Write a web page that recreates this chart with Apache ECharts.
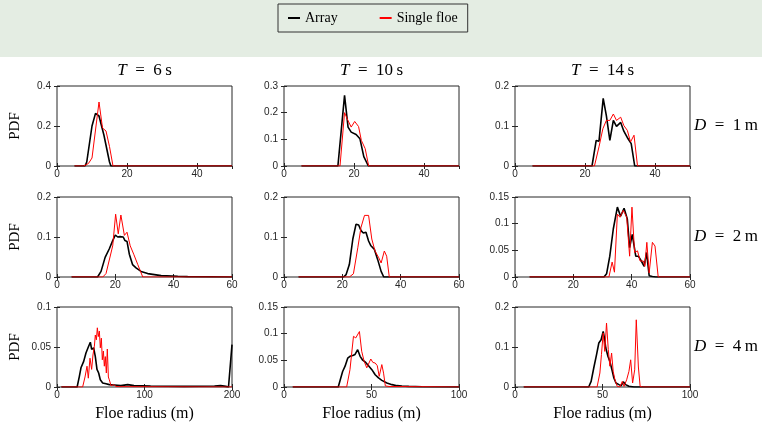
<!DOCTYPE html>
<html>
<head>
<meta charset="utf-8">
<script src="https://cdn.jsdelivr.net/npm/echarts@6/dist/echarts.min.js"></script>
<style>
  html, body { margin: 0; padding: 0; background: #fff; }
  #container { width: 762px; height: 423px; }
</style>
</head>
<body>
<div id="container"></div>
<script>
// wave periods (columns) and spacings (rows)
var periods = ['6', '10', '14'];
var spacings = ['1', '2', '4'];

// axis ranges, per row then column
var xMax = [[50, 50, 50], [60, 60, 60], [200, 100, 100]];
var xStep = [[20, 20, 20], [20, 20, 20], [100, 50, 50]];
var yMax = [[0.4, 0.3, 0.2], [0.2, 0.2, 0.15], [0.1, 0.15, 0.2]];
var yStep = [[0.2, 0.1, 0.1], [0.1, 0.1, 0.05], [0.05, 0.05, 0.1]];

// PDF curves: [radius, pdf]
var arrayT6D1 = [[5,0],[8,0],[8.5,0.02],[10,0.2],[11,0.263],[12,0.25],[13.4,0.155],[15,0.02],[15.4,0],[50,0]];
var singleT6D1 = [[5,0],[7.6,0],[9,0.013],[10,0.04],[12,0.32],[13,0.19],[14,0.175],[15,0.097],[16,0],[50,0]];

var arrayT10D1 = [[5,0],[15.4,0],[17.3,0.265],[18.3,0.146],[19.2,0.127],[20.6,0.118],[21.7,0.102],[22.8,0.035],[24.1,0],[50,0]];
var singleT10D1 = [[5,0],[16,0],[17.3,0.2],[18.3,0.17],[19.2,0.146],[20.2,0.167],[21.3,0.148],[22.1,0.096],[23.2,0.065],[24.2,0],[50,0]];

var arrayT14D1 = [[5,0],[22,0],[23.2,0.064],[24,0.062],[25.2,0.169],[26.1,0.126],[27.1,0.064],[28.1,0.114],[29,0.099],[30.2,0.109],[31.1,0.087],[32.3,0.068],[33.2,0.056],[34.2,0],[50,0]];
var singleT14D1 = [[5,0],[22.7,0],[24,0.048],[25.1,0.093],[26.1,0.114],[27.1,0.114],[28.1,0.13],[29,0.114],[30.2,0.122],[31.1,0.101],[32.1,0.089],[33,0.06],[34,0.077],[35,0],[50,0]];

var arrayT6D2 = [[5,0],[13.9,0],[15.1,0.014],[16.5,0.049],[17.9,0.07],[19.1,0.091],[20,0.105],[20.8,0.1],[21.6,0.101],[22.2,0.097],[22.7,0.1],[23.3,0.091],[24,0.089],[24.8,0.057],[25.9,0.031],[27.1,0.023],[28.8,0.014],[31.1,0.0085],[33.4,0.006],[35.7,0.0034],[41.4,0.0017],[44.8,0.001],[60,0]];
var singleT6D2 = [[5,0],[15.7,0],[16.8,0.0085],[19.1,0.078],[20.1,0.157],[21,0.108],[21.9,0.155],[23.1,0.104],[24,0.112],[25.1,0.078],[26.3,0.057],[27.7,0.031],[29.4,0],[60,0]];

var arrayT10D2 = [[5,0],[20.4,0],[21.3,0.006],[22.4,0.031],[23.6,0.095],[24.7,0.132],[25.6,0.13],[26.4,0.116],[27.2,0.11],[28.1,0.112],[29,0.09],[29.8,0.078],[31,0.069],[32.1,0.044],[33.3,0.014],[34.2,0],[60,0]];
var singleT10D2 = [[5,0],[22.4,0],[23.8,0.008],[25.3,0.073],[26.4,0.124],[27.6,0.154],[29,0.154],[30.1,0.095],[31.2,0.065],[32.5,0.048],[33.3,0.035],[34.4,0.065],[35.2,0.052],[36.1,0],[60,0]];

var arrayT14D2 = [[5,0],[30.5,0],[31.4,0.006],[32.5,0.039],[33.7,0.09],[35.1,0.131],[36.2,0.114],[37.4,0.129],[38.5,0.109],[39.3,0.055],[40.2,0.08],[41.4,0.039],[42.3,0.039],[43.3,0.03],[44.3,0.02],[45.1,0.046],[46,0.0025],[47.1,0.001],[48.3,0],[60,0]];
var singleT14D2 = [[5,0],[32.2,0],[33.3,0.028],[34.1,0.009],[35.1,0.118],[36,0.112],[37.1,0.125],[38.3,0.112],[39.3,0.039],[40.1,0.131],[41,0.046],[42,0.049],[42.9,0.03],[44,0.03],[44.5,0.02],[45.2,0.065],[46,0.0076],[47.1,0.065],[48,0.058],[49.1,0],[60,0]];

var arrayT6D4 = [[5,0],[23,0],[25.5,0.013],[27.4,0.024],[30.5,0.032],[33.1,0.0425],[35.8,0.05],[38.1,0.056],[39.6,0.047],[41.9,0.049],[43.8,0.038],[45.7,0.022],[47.6,0.0175],[49.5,0.009],[52.2,0.005],[56,0.004],[59.8,0.003],[65.5,0.0025],[73,0.0017],[80.8,0.003],[88,0.0017],[107,0.0012],[145,0.0008],[180,0.0012],[187,0.0017],[193,0.0008],[196,0],[200,0.053]];
var singleT6D4 = [[5,0],[29.3,0],[32,0.0125],[34.3,0.026],[35.8,0.011],[37.7,0.036],[39.6,0.022],[41.1,0.04],[42.7,0.051],[43.8,0.065],[45,0.059],[46.1,0.074],[47.2,0.063],[48.4,0.07],[49.5,0.049],[50.7,0.061],[51.8,0.034],[53,0.045],[54.1,0.026],[55.2,0.038],[56.4,0.0175],[57.5,0.0475],[58.7,0.0125],[59.8,0.009],[61.7,0.0017],[64.8,0.003],[67.4,0.0008],[71,0.0004],[200,0]];

var arrayT10D4 = [[5,0],[31,0],[32.2,0.014],[33.5,0.029],[34.9,0.039],[36.4,0.054],[37.7,0.0575],[39.3,0.059],[40.6,0.061],[42.1,0.07],[43.5,0.0575],[44.8,0.051],[46.7,0.046],[48.3,0.04],[50.2,0.0325],[52.1,0.023],[54,0.017],[55.9,0.0125],[58.8,0.0075],[61.7,0.0044],[64.6,0.0025],[65.5,0.0056],[67.4,0.0019],[71.3,0.0012],[78.9,0.0006],[100,0]];
var singleT10D4 = [[5,0],[35.8,0],[37.7,0.0325],[39.7,0.095],[41,0.092],[42,0.095],[43.1,0.104],[44.4,0.067],[45.8,0.048],[47.3,0.036],[48.3,0.0325],[49.6,0.0525],[50.8,0.046],[52.1,0.045],[53.3,0.04],[54.4,0.02],[55.9,0.042],[56.9,0.026],[57.9,0.002],[60,0.001],[100,0]];

var arrayT14D4 = [[5,0],[42.1,0],[43.5,0.014],[45,0.0475],[46.6,0.081],[47.9,0.11],[49.2,0.118],[50.4,0.139],[51.1,0.1225],[51.9,0.0975],[53.1,0.077],[54.2,0.064],[55.4,0.043],[56.5,0.0225],[57.7,0.01],[59.4,0.006],[60.7,0.0033],[61.9,0.013],[63.2,0.006],[65.1,0.0017],[68,0],[100,0]];
var singleT14D4 = [[5,0],[46.9,0],[48.5,0.035],[49.4,0.081],[50.4,0.135],[51.3,0.089],[52.3,0.16],[53.3,0.0935],[54.2,0.052],[55.2,0.085],[56.1,0.039],[57.1,0.018],[58.4,0.0017],[60,0],[61.3,0.014],[62.3,0.0017],[63.8,0.018],[65.1,0.039],[66.1,0.068],[67.2,0.01],[68.4,0.043],[69.3,0.168],[70.5,0.05],[71.5,0.0017],[72.8,0],[100,0]];

var arrayCurves = [[arrayT6D1, arrayT10D1, arrayT14D1], [arrayT6D2, arrayT10D2, arrayT14D2], [arrayT6D4, arrayT10D4, arrayT14D4]];
var singleCurves = [[singleT6D1, singleT10D1, singleT14D1], [singleT6D2, singleT10D2, singleT14D2], [singleT6D4, singleT10D4, singleT14D4]];

// layout (pixels)
var colLeft = [57, 284, 515];
var rowTop = [86, 197, 307];
var plotW = 175, plotH = 80;

var axisColor = '#262626';
var serif = '"Liberation Serif", "DejaVu Serif", serif';
var sans = '"Liberation Sans", Arial, sans-serif';

var myChart = echarts.init(document.getElementById('container'));

var grids = [], xAxes = [], yAxes = [], series = [], graphics = [];

graphics.push({ type: 'rect', left: 0, top: 0, z: -10, shape: { width: 762, height: 57 }, style: { fill: '#e4ede3' } });

for (var r = 0; r < 3; r++) {
    for (var c = 0; c < 3; c++) {
        var g = r * 3 + c;
        grids.push({
            left: colLeft[c], top: rowTop[r], width: plotW, height: plotH,
            show: true, backgroundColor: '#fff', borderColor: axisColor, borderWidth: 1
        });
        var xm = xMax[r][c], xs = xStep[r][c];
        var ym = yMax[r][c], ys = yStep[r][c];
        // bottom / left axes with labels, top / right mirror axes with ticks only
        xAxes.push({
            type: 'value', gridIndex: g, position: 'bottom', min: 0, max: xm, interval: xs,
            axisLine: { show: false }, splitLine: { show: false },
            axisTick: { show: true, inside: true, length: 3, lineStyle: { color: axisColor } },
            axisLabel: { color: axisColor, fontFamily: sans, fontSize: 10, margin: 3, showMaxLabel: xm % xs === 0 }
        });
        xAxes.push({
            type: 'value', gridIndex: g, position: 'top', min: 0, max: xm, interval: xs,
            axisLine: { show: false }, splitLine: { show: false }, axisLabel: { show: false },
            axisTick: { show: true, inside: true, length: 3, lineStyle: { color: axisColor } }
        });
        yAxes.push({
            type: 'value', gridIndex: g, position: 'left', min: 0, max: ym, interval: ys,
            axisLine: { show: false }, splitLine: { show: false },
            axisTick: { show: true, inside: true, length: 3, lineStyle: { color: axisColor } },
            axisLabel: { color: axisColor, fontFamily: sans, fontSize: 10, margin: 6,
                formatter: function (v) { return +v.toFixed(3) + ''; } }
        });
        yAxes.push({
            type: 'value', gridIndex: g, position: 'right', min: 0, max: ym, interval: ys,
            axisLine: { show: false }, splitLine: { show: false }, axisLabel: { show: false },
            axisTick: { show: true, inside: true, length: 3, lineStyle: { color: axisColor } }
        });
        series.push({
            name: 'Array', type: 'line', xAxisIndex: 2 * g, yAxisIndex: 2 * g,
            data: arrayCurves[r][c], showSymbol: false, symbol: 'none',
            lineStyle: { color: '#000', width: 1.6 }, itemStyle: { color: '#000' }, z: 2
        });
        series.push({
            name: 'Single floe', type: 'line', xAxisIndex: 2 * g, yAxisIndex: 2 * g,
            data: singleCurves[r][c], showSymbol: false, symbol: 'none',
            lineStyle: { color: '#ff0000', width: 1 }, itemStyle: { color: '#ff0000' }, z: 3
        });
    }
}

// column titles and x-axis names
for (var c2 = 0; c2 < 3; c2++) {
    graphics.push({
        type: 'text', x: colLeft[c2] + plotW / 2, y: 71,
        style: {
            text: '{i|T}\u2002=\u2002' + periods[c2] + '\u2009s', align: 'center', verticalAlign: 'middle',
            fontFamily: serif, fontSize: 17, fill: '#000',
            rich: { i: { fontStyle: 'italic', fontFamily: serif, fontSize: 17 } }
        }
    });
    graphics.push({
        type: 'text', x: colLeft[c2] + plotW / 2, y: 414,
        style: { text: 'Floe radius (m)', align: 'center', verticalAlign: 'middle', fontFamily: serif, fontSize: 16, fill: '#000' }
    });
}
// row labels
for (var r2 = 0; r2 < 3; r2++) {
    var cy = rowTop[r2] + plotH / 2;
    graphics.push({
        type: 'text', x: 694, y: cy,
        style: {
            text: '{i|D}\u2002=\u2002' + spacings[r2] + '\u2009m', align: 'left', verticalAlign: 'middle',
            fontFamily: serif, fontSize: 17, fill: '#000',
            rich: { i: { fontStyle: 'italic', fontFamily: serif, fontSize: 17 } }
        }
    });
    graphics.push({
        type: 'text', x: 15, y: cy, rotation: Math.PI / 2,
        style: { text: 'PDF', align: 'center', verticalAlign: 'middle', fontFamily: serif, fontSize: 15, fill: '#000' }
    });
}

myChart.setOption({
    animation: false,
    backgroundColor: '#fff',
    legend: {
        data: ['Array', 'Single floe'],
        left: 278, top: 4,
        padding: [7, 10, 7, 10],
        itemGap: 42, itemWidth: 12, itemHeight: 2, icon: 'rect',
        backgroundColor: '#e4ede3', borderColor: '#333', borderWidth: 1,
        textStyle: { fontFamily: serif, fontSize: 14, color: '#000' }
    },
    grid: grids,
    xAxis: xAxes,
    yAxis: yAxes,
    series: series,
    graphic: graphics
});
</script>
</body>
</html>
